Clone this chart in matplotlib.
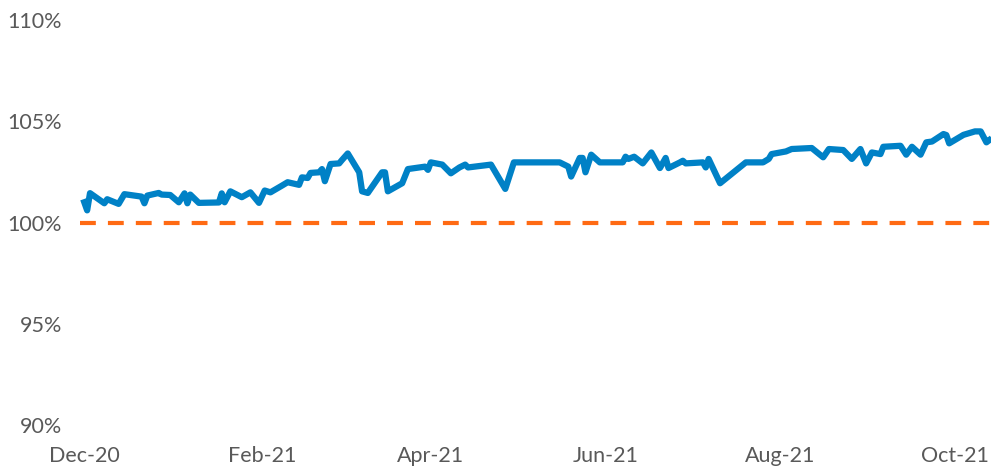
import matplotlib
matplotlib.use("Agg")
import matplotlib.pyplot as plt
import matplotlib.dates as mdates
import pandas as pd

# performance series (percent of start value)
dates = ["2020-12-01", "2020-12-02", "2020-12-03", "2020-12-08", "2020-12-09", "2020-12-13",
         "2020-12-15", "2020-12-21", "2020-12-22", "2020-12-23", "2020-12-27", "2020-12-28",
         "2020-12-31", "2021-01-03", "2021-01-05", "2021-01-06", "2021-01-07", "2021-01-10",
         "2021-01-17", "2021-01-18", "2021-01-19", "2021-01-21", "2021-01-25", "2021-01-28",
         "2021-01-31", "2021-02-02", "2021-02-04", "2021-02-08", "2021-02-10", "2021-02-14",
         "2021-02-15", "2021-02-17", "2021-02-18", "2021-02-21", "2021-02-22", "2021-02-23",
         "2021-02-25", "2021-02-28", "2021-03-01", "2021-03-03", "2021-03-07", "2021-03-08",
         "2021-03-10", "2021-03-15", "2021-03-16", "2021-03-17", "2021-03-22", "2021-03-24",
         "2021-03-30", "2021-03-31", "2021-04-01", "2021-04-05", "2021-04-08", "2021-04-11",
         "2021-04-13", "2021-04-14", "2021-04-22", "2021-04-27", "2021-04-30", "2021-05-16",
         "2021-05-19", "2021-05-20", "2021-05-23", "2021-05-24", "2021-05-25", "2021-05-27",
         "2021-05-30", "2021-06-07", "2021-06-08", "2021-06-09", "2021-06-11", "2021-06-12",
         "2021-06-14", "2021-06-17", "2021-06-20", "2021-06-22", "2021-06-23", "2021-06-27",
         "2021-06-28", "2021-06-29", "2021-07-05", "2021-07-06", "2021-07-07", "2021-07-11",
         "2021-07-20", "2021-07-26", "2021-07-28", "2021-07-29", "2021-08-03", "2021-08-05",
         "2021-08-12", "2021-08-16", "2021-08-18", "2021-08-23", "2021-08-26", "2021-08-29",
         "2021-08-31", "2021-09-02", "2021-09-05", "2021-09-06", "2021-09-12", "2021-09-14",
         "2021-09-16", "2021-09-19", "2021-09-21", "2021-09-23", "2021-09-27", "2021-09-28",
         "2021-09-29", "2021-10-04", "2021-10-08", "2021-10-10", "2021-10-12", "2021-10-13"]
values = [101.0, 100.6, 101.45, 100.95, 101.15, 100.92,
          101.4, 101.28, 100.95, 101.33, 101.46, 101.38,
          101.36, 101.0, 101.44, 100.95, 101.38, 100.97,
          100.99, 101.44, 101.0, 101.54, 101.25, 101.49,
          100.97, 101.58, 101.49, 101.82, 101.99, 101.86,
          102.23, 102.2, 102.45, 102.48, 102.64, 102.04,
          102.89, 102.92, 103.09, 103.41, 102.48, 101.54,
          101.46, 102.48, 102.48, 101.54, 101.94, 102.64,
          102.76, 102.6, 102.97, 102.86, 102.43, 102.72,
          102.86, 102.72, 102.86, 101.66, 102.97, 102.97,
          102.76, 102.27, 103.19, 103.19, 102.48, 103.35,
          102.97, 102.97, 103.25, 103.14, 103.25, 103.14,
          102.92, 103.46, 102.69, 103.19, 102.69, 102.97,
          103.05, 102.92, 102.97, 102.72, 103.14, 101.94,
          102.97, 102.97, 103.14, 103.38, 103.51, 103.63,
          103.68, 103.22, 103.63, 103.58, 103.14, 103.63,
          102.92, 103.46, 103.38, 103.74, 103.79, 103.35,
          103.74, 103.35, 103.96, 104.0, 104.37, 104.32,
          103.91, 104.33, 104.5, 104.5, 103.96, 104.07]
baseline = 100
yticks = [90, 95, 100, 105, 110]
xticks = ["2020-12-01", "2021-02-01", "2021-04-01", "2021-06-01", "2021-08-01", "2021-10-01"]

plt.rcParams["font.family"] = ["Lato", "DejaVu Sans"]
x = pd.to_datetime(dates)

fig = plt.figure(figsize=(9.91, 4.66), dpi=100)
ax = fig.add_axes([0.081, 0.088, 0.919, 0.869])

ax.axhline(baseline, color="#FF6A13", lw=3, dashes=(3.8, 2.9), dash_capstyle="butt")
ax.plot(x, values, color="#0081C6", lw=4.5, solid_joinstyle="round")

ax.set_ylim(90, 110)
ax.set_yticks(yticks)
ax.set_yticklabels([f"{v}%" for v in yticks])
ax.set_xlim(pd.Timestamp("2020-12-01") - pd.Timedelta(days=1.4),
            pd.Timestamp("2021-10-13") + pd.Timedelta(days=0.6))
ax.set_xticks(pd.to_datetime(xticks))
ax.xaxis.set_major_formatter(mdates.DateFormatter("%b-%y"))

for s in ax.spines.values():
    s.set_visible(False)
ax.tick_params(length=0, labelsize=15.5, colors="#595959")
ax.tick_params(axis="y", pad=13)
ax.tick_params(axis="x", pad=15)

fig.savefig("out.png", dpi=100)
